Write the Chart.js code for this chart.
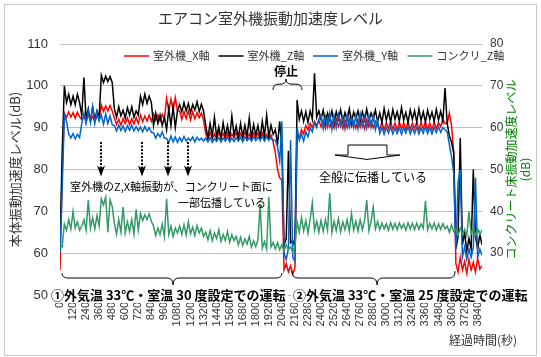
<!DOCTYPE html>
<html><head><meta charset="utf-8">
<script src="https://cdn.jsdelivr.net/npm/chart.js@4"></script>
<style>html,body{margin:0;padding:0;background:#fff;}canvas{display:block;}</style>
</head><body>
<canvas id="c" width="541" height="357"></canvas>
<script>
// ---- data ----
const timeStep = 20; // seconds between samples (t = index * 20)
const xTickValues = [0,120,240,360,480,600,720,840,960,1080,1200,1320,1440,1560,1680,1800,1920,2040,2160,2280,2400,2520,2640,2760,2880,3000,3120,3240,3360,3480,3600,3720,3840];
const leftTicks = [50,60,70,80,90,100,110];
const rightTicks = [20,30,40,50,60,70,80];
const seriesNames = ['室外機_X軸','室外機_Z軸','室外機_Y軸','コンクリ_Z軸'];

// 室外機_X軸 (left axis, dB)
const unitX = [
 56,79,
 93.5,92.4,93.8,92.5,93.6,92.3,93.7,92.6,
 92,
 92.5,91.5,93,91.8,92.6,91.4,92.8,92,
 95.4,93.9,95.2,94,95.3,94,
 92.3,90.8,92,90.6,92.2,91,92.3,90.7,92.1,90.9,92.4,91,
 93,91.4,92.8,91.6,93,91.5,
 93.3,91.8,93,91.6,93.2,92,
 97,94,96.8,94.2,97.2,94,
 94,92,93.8,92.2,94,91.9,93.8,92.1,93.6,92.4,93.5,91.8,
 88.6,87.3,88.8,87.4,88.5,87.2,88.9,87.5,88.6,87.3,88.7,87.4,88.5,87.6,88.8,87.3,
 88.6,87.5,88.9,87.4,88.5,87.3,88.7,87.6,88.6,87.4,88.8,87.5,88.4,87.3,88.2,86.5,
 84,80,78,77.5,
 56,57.5,55.5,57,55,56.5,
 88,87.5,89.5,88.5,90.5,89.5,91,90,91.5,90.5,91.8,
 90.2,91.8,89.8,92,90.1,91.6,89.9,92.2,90.3,91.7,89.8,91.9,90,92.1,90.2,91.6,89.9,92,90.1,91.8,89.7,91.9,90.2,91.6,90,91.5,90.4,
 89.6,91.3,89.5,91.2,89.8,91.4,89.6,91.1,89.5,91.3,89.7,91.2,89.4,91.4,89.6,91.1,89.8,91.3,89.5,91.2,89.7,91.4,89.6,91.1,89.5,91.3,89.8,91.2,90.2,92,91,
 91,93.5,90.5,84,
 57.5,55.5,59,56,58,55.2,58.5,56,57.8,55.5,58.8,56.2,57
];
// 室外機_Z軸 (left axis, dB)
const unitZ = [
 62,84,
 100,96,98,95.5,97.5,95.5,98,96,
 93,
 102,92,94.5,91.5,95,92,94,92.5,
 102.5,100.8,102.3,101,102.2,100.8,
 94.5,92.5,95,92.8,94.2,92.3,94.8,93,95,92.5,94,93,
 97.5,95.5,98,95.8,97.5,96,
 90.5,93.5,91,93,90.5,92.5,
 89.5,94.5,90.5,95,90,94,
 95.5,93.8,96,94,95.8,93.6,95.5,94.2,96.2,93.8,95.6,94,
 90.5,87.5,91,88,92.5,87.8,90.2,87.5,91.2,88,90.5,87.6,92.8,88.2,90.4,87.5,
 91,87.8,90.6,88,92.3,87.7,90.8,88.2,90.5,87.5,91.5,88,93,87.8,90.6,88.4,
 89.5,86,91.5,85,
 62,63.5,84.5,62.5,63,61.5,
 96.6,92,94,91.5,93.8,91.2,94,92,103,92.5,94,
 92,94.2,91.3,93.5,91.8,94,91.2,93.8,92,94.3,91.5,93.6,91.8,94.5,91.4,93.7,92.2,94,91.5,93.8,91.8,94.4,91.6,93.5,92,94.2,91.4,
 93.5,91.2,94.6,91.8,93.9,91.3,94.3,92,93.8,91.5,94.8,91.8,93.6,91.2,94.2,92,94,91.4,94.5,91.7,93.8,91.3,94.2,92,93.7,91.5,94.4,91.8,93.9,91.6,99.5,
 91,88,86.5,84,
 61,64,87.5,62,65,60.5,63.5,61,80,64,61,64.5,62
];
// 室外機_Y軸 (left axis, dB)
const unitY = [
 60,75,
 93,91.5,88.5,87.5,88.6,87.3,88.4,87.6,
 91,
 93.5,91,94,91.3,95,91,93.8,91.5,
 93,90.8,93.3,91,92.8,90.7,
 90.5,89.2,90.6,89.3,90.4,89.1,90.5,89.4,90.6,89.2,90.3,89.3,
 90.2,89,90.3,89.2,90,88.9,
 88.8,87.5,88.6,87.8,89,87.5,
 87.5,86.4,88,86.6,87.8,86.5,
 87.6,86.7,87.9,86.8,87.5,86.9,87.8,86.6,87.7,87,87.5,86.8,
 87.5,86.6,87.6,86.5,87.4,86.7,87.6,86.6,87.5,86.8,87.7,86.6,87.5,86.7,87.6,86.8,
 87.7,86.6,87.8,86.9,87.6,86.8,87.8,86.9,87.7,87,87.9,86.8,87.8,87,87.6,87,
 87,85.5,82,91.5,
 60,58.5,61,87,59,58,
 90,87,88.5,86.8,89,87.8,90,89,91.2,90,92,
 93,89.8,92.6,90.2,93.4,89.6,92.8,90,93.2,90.4,92.5,89.7,93,90.1,92.4,90,92.9,89.8,93.3,90.3,92.6,89.9,92.8,90.1,93,89.5,91.8,
 88.6,90.1,88.4,90,88.7,90.2,88.5,89.9,88.6,90.1,88.4,90,88.7,90.2,88.5,90,88.6,90.1,88.5,89.9,88.7,90.2,88.6,90,88.5,90.1,88.8,90.2,88.9,90,89.5,
 89,86,83,79,
 61,77,80,59,61.5,58.5,61,59,61.4,78,59,61,59.5
];
// コンクリ_Z軸 (right axis, dB)
const concreteZ = [
 32,31.5,
 37,35.5,38,35.8,40,36,37.5,35.5,
 36.5,
 38,35.5,42.7,36,38.5,35.8,39,36.5,
 43,41.5,43.4,35,42.8,41.2,
 37,34.5,38,35,41,34.8,37.5,35.2,38,34.6,40.5,35.5,
 39.5,37.8,39.2,38,39.4,37.6,
 36.5,34.2,36,34.5,37,34,
 43,34.5,36.5,34,36,34.8,
 36.5,34.5,36.8,34.3,37.5,34.6,36.2,34.2,36.6,34.8,36,34,
 35,33.2,35.4,33,34.8,33.5,35.6,32.8,34.5,33,35.2,32.6,34.4,33,
 34,32,33.8,31.8,33.4,32.2,34,31.5,33,31.6,33.2,
 41.5,
 31.2,32.8,31,43.5,31.5,32.5,
 31,32.5,30.8,32,
 30.5,32,30.8,31.5,30.2,31.5,
 37.5,35,38.5,35.3,37.8,34.8,38.2,42,35.5,37.6,35,
 37.8,35.2,38,35.5,44.3,35,37.6,35.4,38.2,35.1,37.5,35.6,38,35.2,39.5,35.5,37.6,35.3,38,35.6,37.8,42.7,35.4,37.6,41,35.8,37.5,
 35.6,37.2,35.8,37,35.5,37.3,35.7,37.1,35.6,37.2,35.9,37,35.5,37.3,35.8,37.1,35.6,37.2,35.7,37,35.9,42.5,35.6,37.1,35.8,37.2,35.5,37,35.7,37.1,35.8,
 36.5,35,36.8,35.2,
 35.8,34.3,36,34.5,35.6,34.2,40,34.6,35.8,34.4,35.8,34.5,35.5
];

// ---- styling / layout ----
const JP = "'Noto Sans CJK JP', 'Noto Sans', sans-serif";
const NUM = "'Liberation Sans', Arial, sans-serif";
const TEXT = '#333333';
const colors = ['#ff0000', '#000000', '#0066cc', '#339966'];

const toPoints = arr => arr.map((v, i) => ({x: i * timeStep, y: v}));

// annotation positions (in data units: seconds / left-axis dB)
const notes = {
  arrows: {times: [377, 751, 990, 1180], top: 86.6, tip: 78.3},
  stopLabel: {t: 2078, v: 103.4, text: '停止'},
  stopBrace: {t0: 1958, t1: 2225, tm: 2078, vEnd: 99.0, vLine: 100.4, vTip: 101.6},
  note1a: {t: 92, v: 75.8, text: '室外機のZ,X軸振動が、コンクリート面に'},
  note1b: {t: 1085, v: 72.0, text: '一部伝播している'},
  note2: {t: 2878, v: 78.0, text: '全般に伝播している'},
  block: {tL: 2528, tB0: 2648, tB1: 3006, tR: 3126, tTip: 2823, vTop: 85.85, vBase: 83.46, vTip: 82.4},
  brace1: {t0: 18, t1: 2041, tm: 1039, vEnd: 55.25, vLine: 54.06, vTip: 52.4},
  brace2: {t0: 2133, t1: 3632, tm: 2915, vEnd: 55.7, vLine: 54.06, vTip: 52.4},
  label1: {t: -83, v: 50, text: '①外気温 33℃・室温 30 度設定での運転'},
  label2: {t: 2142, v: 50, text: '②外気温 33℃・室温 25 度設定での運転'},
  xTitle: {t: 4202, v: 39.2, text: '経過時間(秒)'}
};

function line(ctx, x0, y0, x1, y1) { ctx.beginPath(); ctx.moveTo(x0, y0); ctx.lineTo(x1, y1); ctx.stroke(); }
function brace(ctx, x0, x1, xm, yE, yL, yT) {
  const r = 6;
  ctx.beginPath();
  ctx.moveTo(x0, yE);
  ctx.quadraticCurveTo(x0, yL, x0 + r, yL);
  ctx.lineTo(xm - r, yL);
  ctx.quadraticCurveTo(xm, yL, xm, yT);
  ctx.quadraticCurveTo(xm, yL, xm + r, yL);
  ctx.lineTo(x1 - r, yL);
  ctx.quadraticCurveTo(x1, yL, x1, yE);
  ctx.stroke();
}

const decorations = {
  id: 'decorations',
  beforeDraw(chart) {
    const ctx = chart.ctx;
    ctx.save();
    ctx.fillStyle = '#fff';
    ctx.fillRect(0, 0, chart.width, chart.height);
    ctx.restore();
  },
  afterDraw(chart) {
    const {ctx, chartArea, scales} = chart;
    const px = t => scales.x.getPixelForValue(t);
    const py = v => scales.y.getPixelForValue(v);
    ctx.save();
    // outer frame
    ctx.strokeStyle = '#c8c8c8'; ctx.lineWidth = 1;
    ctx.strokeRect(4.5, 4.5, 532, 351);

    // legend (inside plot, top)
    ctx.font = `11px ${JP}`; ctx.textBaseline = 'middle'; ctx.textAlign = 'left';
    const ly = chartArea.top + 12;
    chart.data.datasets.forEach((ds, k) => {
      const sx = 124 + k * 94.5;
      ctx.strokeStyle = ds.borderColor; ctx.lineWidth = 1.5;
      line(ctx, sx, ly, sx + 25, ly);
      ctx.fillStyle = TEXT;
      ctx.fillText(ds.label, sx + 29, ly);
    });

    ctx.strokeStyle = '#000'; ctx.fillStyle = '#000';
    // dotted arrows
    const a = notes.arrows;
    a.times.forEach(t => {
      const ax = Math.round(px(t)), y0 = py(a.top), y1 = py(a.tip);
      ctx.lineWidth = 2; ctx.setLineDash([2, 1.5]);
      line(ctx, ax, y0, ax, y1 - 8);
      ctx.setLineDash([]);
      ctx.beginPath();
      ctx.moveTo(ax, y1); ctx.lineTo(ax - 4, y1 - 11); ctx.lineTo(ax, y1 - 8); ctx.lineTo(ax + 4, y1 - 11);
      ctx.closePath(); ctx.fill();
    });

    // braces
    ctx.lineWidth = 1;
    [notes.brace1, notes.brace2, notes.stopBrace].forEach(b => {
      brace(ctx, px(b.t0), px(b.t1), px(b.tm), py(b.vEnd), py(b.vLine), py(b.vTip));
    });

    // block arrow shape
    const bk = notes.block;
    ctx.beginPath();
    ctx.moveTo(px(bk.tB0), py(bk.vTop)); ctx.lineTo(px(bk.tB1), py(bk.vTop));
    ctx.lineTo(px(bk.tB1), py(bk.vBase)); ctx.lineTo(px(bk.tR), py(bk.vBase));
    ctx.lineTo(px(bk.tTip), py(bk.vTip)); ctx.lineTo(px(bk.tL), py(bk.vBase));
    ctx.lineTo(px(bk.tB0), py(bk.vBase)); ctx.closePath();
    ctx.fillStyle = '#fff'; ctx.fill(); ctx.stroke();

    // texts
    ctx.fillStyle = '#000';
    ctx.font = `bold 12px ${JP}`; ctx.textAlign = 'center';
    ctx.fillText(notes.stopLabel.text, px(notes.stopLabel.t), py(notes.stopLabel.v));
    ctx.font = `11px ${JP}`; ctx.textAlign = 'left';
    ctx.fillText(notes.note1a.text, px(notes.note1a.t), py(notes.note1a.v));
    ctx.fillText(notes.note1b.text, px(notes.note1b.t), py(notes.note1b.v));
    ctx.font = `12px ${JP}`; ctx.textAlign = 'center';
    ctx.fillText(notes.note2.text, px(notes.note2.t), py(notes.note2.v));

    // condition labels with white boxes
    ctx.font = `bold 13px ${JP}`; ctx.textAlign = 'left';
    [notes.label1, notes.label2].forEach(l => {
      const lx = px(l.t), lyy = py(l.v), w = ctx.measureText(l.text).width;
      ctx.fillStyle = '#fff'; ctx.fillRect(lx - 2, lyy - 8, w + 4, 16);
      ctx.fillStyle = '#000'; ctx.fillText(l.text, lx, lyy);
    });

    // x axis title
    ctx.font = `12px ${JP}`; ctx.textAlign = 'right'; ctx.fillStyle = TEXT;
    ctx.fillText(notes.xTitle.text, px(notes.xTitle.t), py(notes.xTitle.v));

    // right axis title (two lines, reading bottom-to-top)
    const y2 = scales.y2;
    const cy = (chartArea.top + chartArea.bottom) / 2;
    ctx.fillStyle = '#008000'; ctx.font = `12px ${JP}`; ctx.textAlign = 'center';
    [['コンクリート床振動加速度レベル', 29], ['(dB)', 43]].forEach(([txt, off]) => {
      ctx.save(); ctx.translate(y2.left + off, cy); ctx.rotate(-Math.PI / 2);
      ctx.fillText(txt, 0, 0); ctx.restore();
    });
    ctx.restore();
  }
};

new Chart(document.getElementById('c'), {
  type: 'line',
  data: {
    datasets: [
      {label: seriesNames[0], data: toPoints(unitX), borderColor: colors[0], backgroundColor: colors[0], yAxisID: 'y', order: 3},
      {label: seriesNames[1], data: toPoints(unitZ), borderColor: colors[1], backgroundColor: colors[1], yAxisID: 'y', order: 2},
      {label: seriesNames[2], data: toPoints(unitY), borderColor: colors[2], backgroundColor: colors[2], yAxisID: 'y', order: 1},
      {label: seriesNames[3], data: toPoints(concreteZ), borderColor: colors[3], backgroundColor: colors[3], yAxisID: 'y2', order: 0}
    ]
  },
  options: {
    responsive: false, animation: false, events: [],
    devicePixelRatio: 1,
    layout: {padding: 0},
    elements: {line: {borderWidth: 1.5, tension: 0}, point: {radius: 0}},
    scales: {
      x: {
        type: 'linear', min: 0, max: 3880,
        afterBuildTicks: s => { s.ticks = xTickValues.map(v => ({value: v})); },
        afterFit: s => { s.height = 62; },
        ticks: {autoSkip: false, minRotation: 90, maxRotation: 90, padding: 7, color: TEXT, font: {family: NUM, size: 11}, callback: v => String(v)},
        grid: {display: false, drawTicks: false},
        border: {display: false}
      },
      y: {
        position: 'left', min: 50, max: 110,
        afterBuildTicks: s => { s.ticks = leftTicks.map(v => ({value: v})); },
        afterFit: s => { s.width = 60; },
        ticks: {padding: 12, color: TEXT, font: {family: NUM, size: 13}},
        grid: {color: '#bfbfbf', drawTicks: false, lineWidth: 1},
        border: {display: false},
        title: {display: true, text: '本体振動加速度レベル(dB)', color: TEXT, font: {family: JP, size: 13}, padding: {top: 7, bottom: 0}}
      },
      y2: {
        position: 'right', min: 20, max: 80,
        afterBuildTicks: s => { s.ticks = rightTicks.map(v => ({value: v})); },
        afterFit: s => { s.width = 59; },
        ticks: {padding: 8, color: TEXT, font: {family: NUM, size: 12}},
        grid: {display: false, drawTicks: false},
        border: {display: false}
      }
    },
    plugins: {
      legend: {display: false},
      tooltip: {enabled: false},
      title: {display: true, text: 'エアコン室外機振動加速度レベル', color: TEXT, font: {family: JP, size: 15, weight: 'normal'}, padding: {top: 9, bottom: 17}}
    }
  },
  plugins: [decorations]
});
</script>
</body></html>
